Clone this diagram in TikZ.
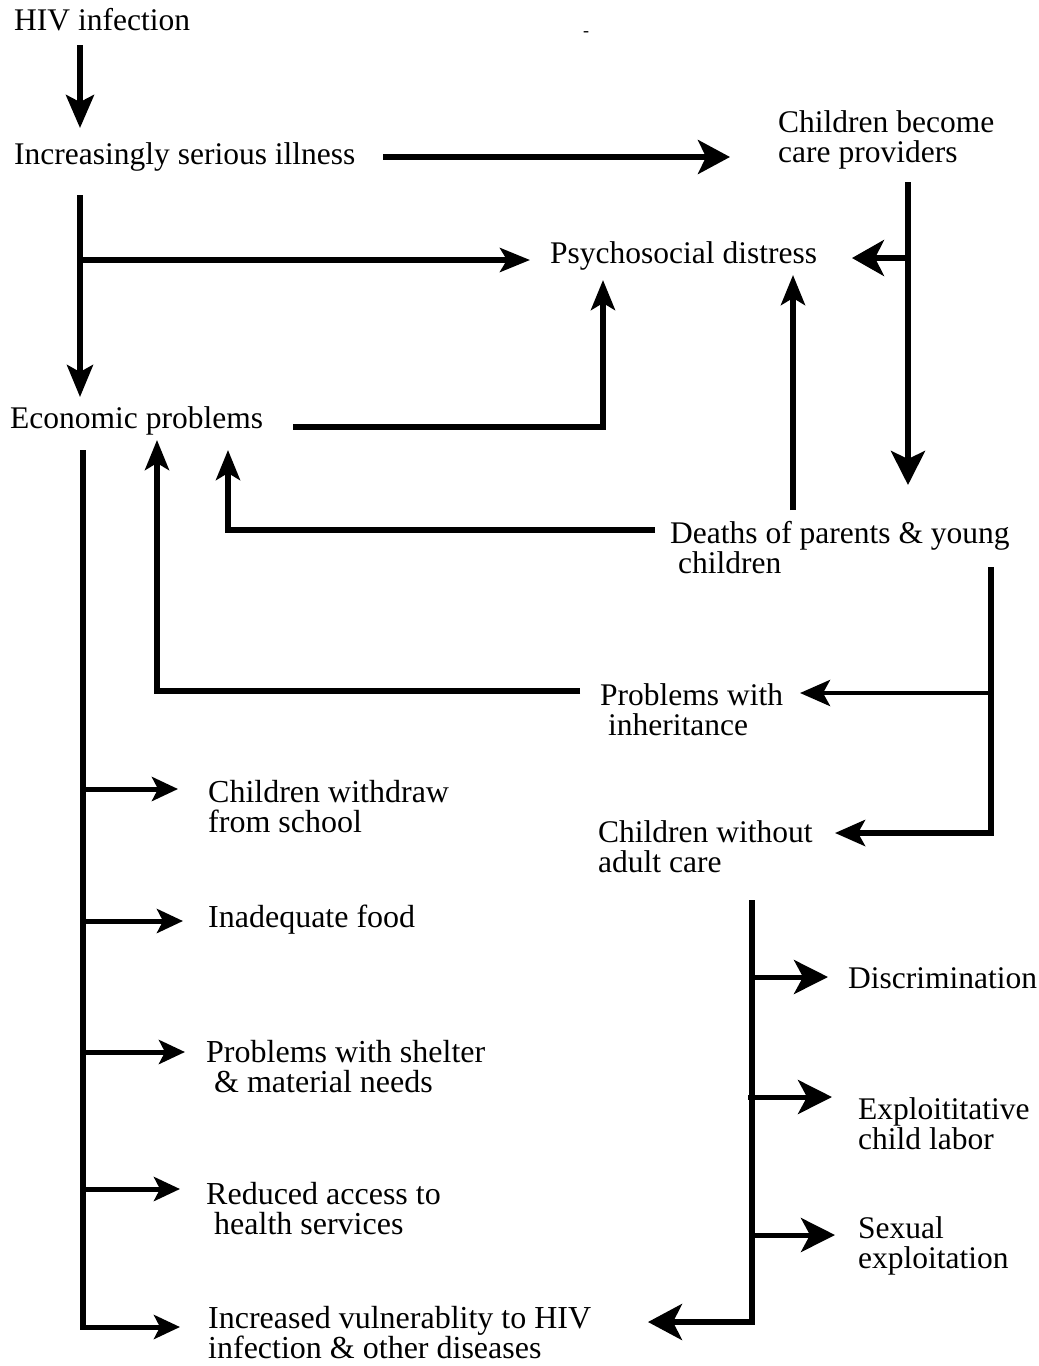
\documentclass[tikz,border=0pt]{standalone}
\usepackage{fontspec}
\setmainfont{Liberation Serif}
\usetikzlibrary{arrows.meta,calc}
\begin{document}
\begin{tikzpicture}[x=1pt,y=-1pt,
  lbl/.style={anchor=west,inner sep=0pt,align=left,font=\fontsize{31.5}{30}\selectfont},
  lblw/.style={lbl,font=\fontsize{32}{30}\selectfont},
  conn/.style={line width=5.5pt},
  arr/.style={conn,-{Stealth[length=32pt,width=34pt,inset=8pt]}},
  sarr/.style={line width=5pt,-{Stealth[length=26pt,width=24pt,inset=6pt]}},
]
\useasboundingbox[fill=white] (0,0) rectangle (1039,1366);

% texts
\node[lbl] (hiv) at (14,20) {HIV infection};
\node[lbl] (ill) at (14,157) {Increasingly serious illness};
\node[lbl] (cbc) at (778,140) {Children become\\care providers};
\node[lbl] (psy) at (550,256) {Psychosocial distress};
\node[lbl] (eco) at (10,421) {Economic problems};
\node[lbl] (dea) at (670,548) {Deaths of parents \& young\\\hspace*{8pt}children};
\node[lbl] (inh) at (600,710) {Problems with\\\hspace*{8pt}inheritance};
\node[lbl] (wac) at (598,847) {Children without\\adult care};
\node[lblw] (sch) at (208,807) {Children withdraw\\from school};
\node[lblw] (food) at (208,920) {Inadequate food};
\node[lblw] (shel) at (206,1067) {Problems with shelter\\\hspace*{8pt}\& material needs};
\node[lblw] (hea) at (206,1209) {Reduced access to\\\hspace*{8pt}health services};
\node[lblw] (vul) at (208,1333) {Increased vulnerablity to HIV\\infection \& other diseases};
\node[lbl] (dis) at (848,978) {Discrimination};
\node[lbl] (lab) at (858,1124) {Exploititative\\child labor};
\node[lbl] (sex) at (858,1246) {Sexual\\exploitation};
\node[inner sep=0pt,font=\fontsize{18}{18}\selectfont] (dash) at (586,34) {-};

% junction coordinates
\coordinate (a1) at (80,45);
\coordinate (a2) at (80,128);
\coordinate (b1) at (383,157);
\coordinate (b2) at (730,157);
\coordinate (c1) at (908,182);
\coordinate (c2) at (908,485);
\coordinate (c3) at (908,258);
\coordinate (c4) at (852,258);
\coordinate (d1) at (80,195);
\coordinate (d2) at (80,397);
\coordinate (d3) at (80,260);
\coordinate (d4) at (530,260);
\coordinate (e1) at (293,427);
\coordinate (e2) at (603,280);
\coordinate (f1) at (793,510);
\coordinate (f2) at (793,275);
\coordinate (g1) at (655,530);
\coordinate (g2) at (228,450);
\coordinate (h1) at (991,567);
\coordinate (h2) at (991,833);
\coordinate (h3) at (835,833);
\coordinate (h4) at (991,693);
\coordinate (h5) at (800,693);
\coordinate (i1) at (580,691);
\coordinate (i2) at (157,440);
\coordinate (j1) at (83,450);
\coordinate (j2) at (83,1327);
\coordinate (j3) at (180,1327);
\coordinate (r1) at (752,900);
\coordinate (r2) at (752,1322);
\coordinate (r3) at (648,1322);

% connectors
\draw[arr,-{Stealth[length=33pt,width=28pt,inset=7pt]}] (a1) -- (a2);
\draw[arr] (b1) -- (b2);
\draw[arr,-{Stealth[length=34pt,width=34pt,inset=8pt]}] (c1) -- (c2);
\draw[arr,-{Stealth[length=32pt,width=36pt,inset=9pt]}] (c3) -- (c4);
\draw[arr,-{Stealth[length=32pt,width=26pt,inset=7pt]}] (d1) -- (d2);
\draw[arr,-{Stealth[length=30pt,width=24pt,inset=7pt]}] (d3) -- (d4);
\draw[arr,-{Stealth[length=30pt,width=24pt,inset=7pt]}] (e1) -| (e2);
\draw[arr,-{Stealth[length=30pt,width=24pt,inset=7pt]}] (f1) -- (f2);
\draw[arr,-{Stealth[length=30pt,width=24pt,inset=7pt]}] (g1) -| (g2);
\draw[conn] (h1) -- (h2);
\draw[arr,-{Stealth[length=30pt,width=26pt,inset=7pt]}] ($(h2)+(2.75,0)$) -- (h3);
\draw[line width=4.5pt,-{Stealth[length=30pt,width=26pt,inset=7pt]}] (h4) -- (h5);
\draw[arr,-{Stealth[length=30pt,width=24pt,inset=7pt]}] (i1) -| (i2);
\draw[conn] (j1) -- (j2);
\draw[sarr] ($(j2)+(-2.75,0)$) -- (j3);
\foreach \yy/\xx in {789/178,921/183,1052/185,1189/180}
  \draw[sarr] (83,\yy) -- (\xx,\yy);
\draw[conn] (r1) -- (r2);
\draw[arr,-{Stealth[length=34pt,width=36pt,inset=9pt]}] ($(r2)+(2.75,0)$) -- (r3);
\draw[line width=5pt,-{Stealth[length=34pt,width=34pt,inset=9pt]}] (752,977) -- (828,977);
\draw[line width=5pt,-{Stealth[length=34pt,width=34pt,inset=9pt]}] (748,1097) -- (832,1097);
\draw[line width=5pt,-{Stealth[length=34pt,width=34pt,inset=9pt]}] (752,1235) -- (835,1235);
\end{tikzpicture}
\end{document}
